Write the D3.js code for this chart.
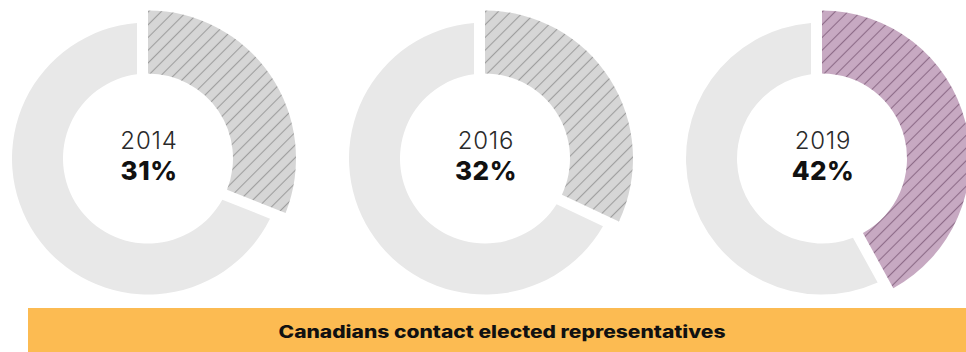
<!DOCTYPE html>
<html>
<head>
<meta charset="utf-8">
<script src="https://cdn.jsdelivr.net/npm/d3@7"></script>
<style>
  html, body { margin: 0; padding: 0; background: #ffffff; }
  svg { display: block; }
</style>
</head>
<body>
<svg id="chart" width="966" height="352"></svg>
<script>
// Survey years and the share of Canadians who contacted an elected representative
const years = ["2014", "2016", "2019"];
const shares = [31, 32, 42];
const caption = "Canadians contact elected representatives";

const W = 966, H = 352;
const svg = d3.select("#chart");

// Layout
const cy = 158.5;
const innerR = 85;
const restOuterR = 136;
const shareOuterR = 148;
const gap = 11; // constant-width gap cut out of the remainder ring

const x = d3.scalePoint().domain(years).range([148, 822]);

// Colours per year: the latest year is highlighted in purple
const palette = {
  ring: "#e8e8e8",
  hatchBg: ["#d6d6d6", "#d6d6d6", "#c7a9c2"],
  hatchLine: ["#9e9e9e", "#9e9e9e", "#8d6b88"],
  banner: "#fcbb52",
  text: "#2a2a2a",
  strong: "#111111"
};

// Diagonal hatch patterns
const defs = svg.append("defs");
years.forEach((yr, i) => {
  const p = defs.append("pattern")
    .attr("id", "hatch-" + yr)
    .attr("patternUnits", "userSpaceOnUse")
    .attr("width", 9)
    .attr("height", 9)
    .attr("patternTransform", "rotate(45)");
  p.append("rect").attr("width", 9).attr("height", 9).attr("fill", palette.hatchBg[i]);
  p.append("line")
    .attr("x1", 4.5).attr("y1", 0).attr("x2", 4.5).attr("y2", 9)
    .attr("stroke", palette.hatchLine[i])
    .attr("stroke-width", 1.1);
});

const pie = d3.pie().sort(null).value(d => d);

const shareArc = d3.arc().innerRadius(innerR).outerRadius(shareOuterR);
const restArc = d3.arc()
  .innerRadius(innerR)
  .outerRadius(restOuterR)
  .padRadius(restOuterR)
  .padAngle(2 * Math.asin(gap / restOuterR));

const donuts = svg.selectAll("g.donut")
  .data(years.map((yr, i) => ({ year: yr, share: shares[i], i })))
  .join("g")
  .attr("class", "donut")
  .attr("transform", d => `translate(${x(d.year)},${cy})`);

donuts.each(function (d) {
  const g = d3.select(this);
  const slices = pie([d.share, 100 - d.share]);
  g.append("path")
    .attr("d", restArc(slices[1]))
    .attr("fill", palette.ring);
  g.append("path")
    .attr("d", shareArc(slices[0]))
    .attr("fill", `url(#hatch-${d.year})`);
});

donuts.append("text")
  .attr("x", 1)
  .attr("y", -10)
  .attr("text-anchor", "middle")
  .attr("font-family", "Inter, 'Noto Sans', sans-serif")
  .attr("font-weight", 300)
  .attr("font-size", 24)
  .attr("letter-spacing", 0.8)
  .attr("fill", palette.text)
  .text(d => d.year);

donuts.append("text")
  .attr("x", 1)
  .attr("y", 21.5)
  .attr("text-anchor", "middle")
  .attr("font-family", "Inter, 'Noto Sans', sans-serif")
  .attr("font-weight", 800)
  .attr("font-size", 26)
  .attr("letter-spacing", 0.5)
  .attr("fill", palette.strong)
  .text(d => d.share + "%");

// Caption banner
svg.append("rect")
  .attr("x", 28)
  .attr("y", 308)
  .attr("width", W)
  .attr("height", H - 308)
  .attr("fill", palette.banner);

svg.append("text")
  .attr("x", 502)
  .attr("y", 338)
  .attr("text-anchor", "middle")
  .attr("font-family", "Inter, 'Noto Sans', sans-serif")
  .attr("font-weight", 800)
  .attr("font-size", 17)
  .attr("textLength", 447)
  .attr("lengthAdjust", "spacingAndGlyphs")
  .attr("fill", palette.strong)
  .text(caption);
</script>
</body>
</html>
